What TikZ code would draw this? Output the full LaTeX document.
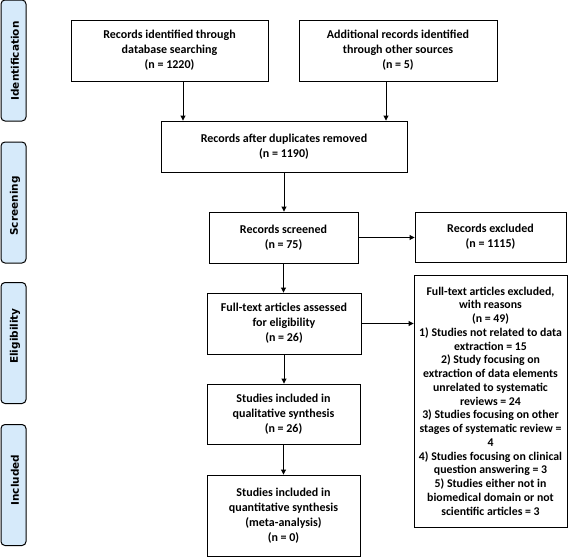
\documentclass[tikz,border=0pt]{standalone}
\usepackage{fontspec}
\setmainfont{Carlito}
\newfontfamily\sidefont{DejaVu Sans}
\usetikzlibrary{arrows.meta}
\definecolor{sidefill}{RGB}{214,234,250}
\begin{document}
\begin{tikzpicture}[x=1pt,y=-1pt,
  box/.style={draw=black,line width=0.9pt,align=center,font=\bfseries\fontsize{12}{15}\selectfont,inner sep=0pt},
  smallbox/.style={draw=black,line width=0.9pt,align=center,font=\bfseries\fontsize{11.8}{13.75}\selectfont,inner sep=0pt},
  side/.style={draw=black,line width=1pt,fill=sidefill,rounded corners=4pt,minimum width=25pt,minimum height=121pt,inner sep=0pt},
  sidetext/.style={rotate=90,font=\sidefont\bfseries\fontsize{10.5}{12}\selectfont,inner sep=0pt},
  arr/.style={-{Triangle[length=5pt,width=5pt]},line width=0.9pt}]
\useasboundingbox (0,0) rectangle (568,557);
% side labels
\node[side] (s1) at (13.5,60.5) {};
\node[sidetext] (t1) at (15,61) {Identification};
\node[side] (s2) at (13.5,202.5) {};
\node[sidetext] (t2) at (15,206) {Screening};
\node[side] (s3) at (13.5,343) {};
\node[sidetext] (t3) at (15,336) {Eligibility};
\node[side] (s4) at (13.5,485) {};
\node[sidetext] (t4) at (15,480) {Included};
% boxes
\node[box,minimum width=197pt,minimum height=61pt] (id1) at (169.5,50.5) {Records identified through\\database searching\\(n = 1220)};
\node[box,minimum width=198pt,minimum height=61pt] (id2) at (398,50.5) {Additional records identified\\through other sources\\(n = 5)};
\node[box,minimum width=246pt,minimum height=51pt] (dup) at (284,146.5) {Records after duplicates removed\\(n = 1190)};
\node[box,minimum width=149pt,minimum height=51pt] (scr) at (283.5,237.5) {Records screened\\(n = 75)};
\node[box,minimum width=151pt,minimum height=50pt] (exc) at (490.5,237) {Records excluded\\(n = 1115)};
\node[box,minimum width=154pt,minimum height=61pt] (ft) at (284,323.5) {Full-text articles assessed\\for eligibility\\(n = 26)};
\node[smallbox,minimum width=153pt,minimum height=252pt] (ftx) at (490.5,401) {Full-text articles excluded,\\with reasons\\(n = 49)\\1) Studies not related to data\\extraction = 15\\2) Study focusing on\\extraction of data elements\\unrelated to systematic\\reviews = 24\\3) Studies focusing on other\\stages of systematic review =\\4\\4) Studies focusing on clinical\\question answering = 3\\5) Studies either not in\\biomedical domain or not\\scientific articles = 3};
\node[box,minimum width=153pt,minimum height=60pt] (qual) at (283.5,414) {Studies included in\\qualitative synthesis\\(n = 26)};
\node[box,minimum width=153pt,minimum height=81pt] (quant) at (283.5,515.5) {Studies included in\\quantitative synthesis\\(meta-analysis)\\(n = 0)};
% connectors
\coordinate (c1) at (183,100);
\coordinate (c2) at (386,100);
\draw[arr] (id1.south -| c1) -- (dup.north -| c1);
\draw[arr] (id2.south -| c2) -- (dup.north -| c2);
\draw[arr] (dup.south) -- (dup.south |- scr.north);
\draw[arr] (scr.east) -- (scr.east -| exc.west);
\draw[arr] (scr.south) -- (scr.south |- ft.north);
\draw[arr] (ft.east) -- (ft.east -| ftx.west);
\draw[arr] (ft.south) -- (ft.south |- qual.north);
\draw[arr] (qual.south) -- (qual.south |- quant.north);
\end{tikzpicture}
\end{document}
